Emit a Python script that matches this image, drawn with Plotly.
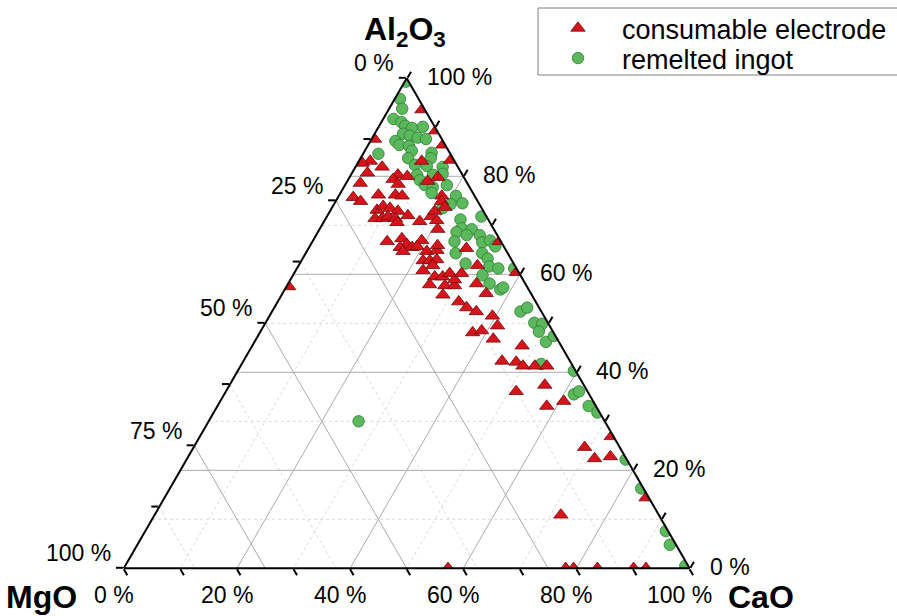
import plotly.graph_objects as go

# ---------------- data (wt.%) ----------------
# consumable electrode inclusions
elec_al2o3 = [93.6, 89.3, 86.4, 83.3, 87.6, 83.1, 83.1, 82.7, 81.9, 80.7, 80.3, 80.0, 79.4, 78.4, 79.0,
              79.8, 78.6, 75.7, 74.9, 76.2, 76.2, 76.0, 76.0, 73.1, 73.9, 73.5, 72.9, 71.4, 71.4, 71.8,
              71.4, 70.6, 72.0, 70.8, 71.8, 72.9, 74.9, 73.7, 71.0, 69.2, 66.7, 67.3, 66.1, 65.5, 65.5,
              64.7, 66.9, 65.7, 64.7, 64.9, 65.9, 62.8, 62.8, 63.0, 60.8, 61.8, 59.5, 59.5, 60.2, 57.9,
              57.7, 57.7, 58.9, 55.8, 54.4, 65.3, 66.7, 61.8, 60.2, 60.4, 58.1, 56.1, 53.2, 52.4, 51.5,
              49.5, 48.1, 48.5, 46.8, 45.4, 42.3, 42.1, 41.3, 41.3, 41.3, 36.1, 37.4, 34.1, 33.1, 24.7,
              22.4, 22.8, 26.9, 14.4, 10.9, 0.0, 0.0, 0.0, 0.0, 0.0, 0.0, 57.5]
elec_cao = [5.9, 10.5, 13.2, 16.1, 0.5, 11.1, 2.0, 0.8, 4.7, 2.7, 8.3, 10.1, 7.9, 9.3, 14.2,
            15.6, 2.5, 2.7, 4.4, 6.9, 9.9, 11.2, 18.2, 8.2, 8.9, 10.3, 12.0, 8.7, 10.0, 10.8,
            12.3, 13.0, 14.2, 16.9, 18.4, 18.5, 18.7, 19.9, 19.8, 20.9, 13.2, 15.5, 17.0, 16.1, 18.2,
            17.0, 19.2, 19.0, 21.2, 22.9, 22.5, 21.5, 22.7, 23.8, 22.5, 23.7, 25.2, 26.6, 27.5, 25.1,
            27.9, 29.6, 29.0, 28.5, 32.0, 27.9, 33.0, 31.6, 29.6, 39.2, 33.3, 36.0, 34.0, 36.1, 39.4,
            41.3, 37.6, 39.0, 41.9, 47.7, 45.7, 48.3, 49.9, 52.0, 54.1, 51.3, 55.7, 60.7, 58.2, 69.1,
            72.0, 74.6, 72.7, 85.1, 71.8, 57.3, 78.1, 79.5, 83.7, 90.1, 92.3, 0.4]
elec_mgo = [0.5, 0.2, 0.4, 0.6, 11.9, 5.8, 14.9, 16.5, 13.4, 16.6, 11.4, 9.9, 12.7, 12.3, 6.8,
            4.6, 18.9, 21.6, 20.7, 16.9, 13.9, 12.8, 5.8, 18.7, 17.2, 16.2, 15.1, 19.9, 18.6, 17.4,
            16.3, 16.4, 13.8, 12.3, 9.8, 8.6, 6.4, 6.4, 9.2, 9.9, 20.1, 17.2, 16.9, 18.4, 16.3,
            18.3, 13.9, 15.3, 14.1, 12.2, 11.6, 15.7, 14.5, 13.2, 16.7, 14.5, 15.3, 13.9, 12.3, 17.0,
            14.4, 12.7, 12.1, 15.7, 13.6, 6.8, 0.3, 6.6, 10.2, 0.4, 8.6, 7.9, 12.8, 11.5, 9.1,
            9.2, 14.3, 12.5, 11.3, 6.9, 12.0, 9.6, 8.8, 6.7, 4.6, 12.6, 6.9, 5.2, 8.7, 6.2,
            5.6, 2.6, 0.4, 0.5, 17.3, 42.7, 21.9, 20.5, 16.3, 9.9, 7.7, 42.1]

# remelted ingot inclusions
ingot_al2o3 = [95.8, 93.8, 91.7, 91.1, 90.3, 89.9, 90.1, 88.7, 88.3, 87.9, 87.6, 87.2, 86.4, 86.2, 84.6,
               85.2, 83.7, 84.8, 83.7, 82.3, 82.1, 81.9, 80.3, 80.3, 80.5, 79.2, 78.2, 77.8, 78.2, 76.6,
               76.0, 74.5, 74.3, 73.5, 71.8, 71.2, 69.4, 69.2, 68.6, 68.0, 68.0, 66.7, 66.5, 66.9, 65.7,
               64.3, 64.3, 63.2, 62.2, 61.6, 61.2, 61.2, 59.8, 52.4, 53.2, 50.1, 49.9, 48.3, 46.2, 47.4,
               41.7, 40.3, 35.5, 36.1, 33.1, 31.8, 22.2, 16.3, 7.6, 4.8, 0.5, 30.0, 99.3, 58.1, 56.9, 57.3]
ingot_cao = [0.9, 2.3, 1.8, 3.5, 4.6, 6.0, 7.8, 5.0, 6.4, 8.0, 9.6, 4.4, 5.5, 7.3, 2.7,
             8.3, 8.4, 12.0, 12.4, 10.3, 12.5, 15.4, 11.7, 14.5, 16.1, 12.7, 14.1, 15.7, 18.0, 16.1,
             20.7, 22.6, 20.6, 19.6, 27.3, 23.9, 25.0, 26.9, 24.5, 26.6, 28.9, 25.1, 30.1, 31.3, 32.8,
             26.5, 31.2, 32.7, 29.3, 33.8, 35.6, 38.4, 33.5, 43.9, 44.7, 47.5, 49.0, 49.2, 51.5, 52.3,
             52.9, 59.4, 61.8, 62.4, 65.6, 67.8, 77.6, 83.3, 92.0, 94.1, 99.0, 26.5, 0.2, 35.6, 38.1, 38.4]
ingot_mgo = [3.3, 3.9, 6.5, 5.4, 5.1, 4.1, 2.1, 6.3, 5.3, 4.1, 2.8, 8.4, 8.1, 6.5, 12.7,
             6.5, 7.9, 3.2, 3.9, 7.4, 5.4, 2.7, 8.0, 5.2, 3.4, 8.1, 7.7, 6.5, 3.8, 7.3,
             3.3, 2.9, 5.1, 6.9, 0.9, 4.9, 5.6, 3.9, 6.9, 5.4, 3.1, 8.2, 3.4, 1.8, 1.5,
             9.2, 4.5, 4.1, 8.5, 4.6, 3.2, 0.4, 6.7, 3.7, 2.1, 2.4, 1.1, 2.5, 2.3, 0.3,
             5.4, 0.3, 2.7, 1.5, 1.3, 0.4, 0.2, 0.4, 0.4, 1.1, 0.5, 43.5, 0.5, 6.3, 5.0, 4.3]

# axis ticks / grid (percent)
al2o3_labels = [0, 20, 40, 60, 80, 100]
al2o3_minor = [10, 30, 50, 70, 90]
cao_labels = [0, 20, 40, 60, 80, 100]
cao_minor = [10, 30, 50, 70, 90]
mgo_labels = [0, 25, 50, 75, 100]
mgo_minor = [12.5, 37.5, 62.5, 87.5]
al2o3_grid = [20, 40, 60, 80]
cao_grid = [20, 40, 60, 80]
mgo_grid = [25, 50, 75]

FONT = "Liberation Sans, Arial, sans-serif"
W, H = 897, 616
DOM_X = [123.7 / W, 689.7 / W]
DOM_Y = [(H - 568.3) / H, (H - 78.3) / H]

# triangle geometry as plotly lays it out inside the domain (equilateral, centred)
_dw = W * (DOM_X[1] - DOM_X[0])
_dh = H * (DOM_Y[1] - DOM_Y[0])
TRI_H = min(_dh, _dw * 3 ** 0.5 / 2)
TRI_W = TRI_H * 2 / 3 ** 0.5
TRI_X0 = W * (DOM_X[0] + DOM_X[1]) / 2 - TRI_W / 2
TRI_Y0 = H * (1 - (DOM_Y[0] + DOM_Y[1]) / 2) - TRI_H / 2


def tern_to_paper(a, b, c):
    s = a + b + c
    x = TRI_X0 + TRI_W * (c + a / 2) / s
    y = TRI_Y0 + TRI_H * (1 - a / s)
    return x / W, 1 - y / H


def grid_path(vals, which):
    a, b, c = [], [], []
    for v in vals:
        r = 100 - v
        if which == "a":
            a += [v, v, None]; b += [r, 0, None]; c += [0, r, None]
        elif which == "b":
            a += [r, 0, None]; b += [v, v, None]; c += [0, r, None]
        else:
            a += [r, 0, None]; b += [0, r, None]; c += [v, v, None]
    return a, b, c


def merge(*paths):
    A, B, C = [], [], []
    for p in paths:
        A += p[0]; B += p[1]; C += p[2]
    return A, B, C


fig = go.Figure()

minor = merge(grid_path(al2o3_minor, "a"), grid_path(mgo_minor, "b"), grid_path(cao_minor, "c"))
major = merge(grid_path(al2o3_grid, "a"), grid_path(mgo_grid, "b"), grid_path(cao_grid, "c"))
fig.add_trace(go.Scatterternary(a=minor[0], b=minor[1], c=minor[2], mode="lines",
                                line=dict(color="#d9d9d9", width=1, dash="3px,3px"),
                                showlegend=False, hoverinfo="skip"))
fig.add_trace(go.Scatterternary(a=major[0], b=major[1], c=major[2], mode="lines",
                                line=dict(color="#ababab", width=1),
                                showlegend=False, hoverinfo="skip"))

fig.add_trace(go.Scatterternary(
    a=ingot_al2o3, b=ingot_mgo, c=ingot_cao, mode="markers", name="remelted ingot",
    legend="legend2",
    marker=dict(symbol="circle", size=11.5, color="#5cb85c", line=dict(color="#2f7d32", width=0.8))))
fig.add_trace(go.Scatterternary(
    a=elec_al2o3, b=elec_mgo, c=elec_cao, mode="markers", name="consumable electrode",
    legend="legend",
    marker=dict(symbol="triangle-up", size=12.5, color="#d7141c", line=dict(color="#6e0a0a", width=0.8))))


def tickset(labels, minor_vals):
    # positions of the tick marks along an edge (in that axis' own units)
    return dict(tickmode="array", tickvals=sorted(set(labels) | set(minor_vals)))


axis_common = dict(showgrid=False, showline=True, linecolor="black", linewidth=2,
                   ticks="outside", ticklen=7, tickwidth=1.5, tickcolor="black",
                   showticklabels=False, title=dict(text=""))

# tick labels: each edge shows the component of the corner it runs towards
tick_font = dict(family=FONT, size=23, color="black")
annotations = []
for m in mgo_labels:            # left edge, MgO
    x, y = tern_to_paper(100 - m, m, 0)
    annotations.append(dict(text="%g %%" % m, x=x, y=y, xanchor="right", yanchor="middle",
                            xshift=-11, yshift=15, font=tick_font))
for v in cao_labels:            # bottom edge, CaO
    x, y = tern_to_paper(0, 100 - v, v)
    annotations.append(dict(text="%g %%" % v, x=x, y=y, xanchor="center", yanchor="middle",
                            xshift=-10, yshift=-27, font=tick_font))
for v in al2o3_labels:          # right edge, Al2O3
    x, y = tern_to_paper(v, 0, 100 - v)
    annotations.append(dict(text="%g %%" % v, x=x, y=y, xanchor="left", yanchor="middle",
                            xshift=18, yshift=1, font=tick_font))

title_font = dict(family=FONT, size=32, color="black")
annotations += [
    dict(text="<b>Al<sub>2</sub>O<sub>3</sub></b>", x=405 / W, y=1 - 31 / H,
         xanchor="center", yanchor="middle", font=title_font),
    dict(text="<b>MgO</b>", x=41 / W, y=(H - 597) / H, xanchor="center", yanchor="middle", font=title_font),
    dict(text="<b>CaO</b>", x=761 / W, y=(H - 597) / H, xanchor="center", yanchor="middle", font=title_font),
]
for ann in annotations:
    ann.update(xref="paper", yref="paper", showarrow=False)

legend_common = dict(x=534 / W, xanchor="left", yanchor="top", bgcolor="rgba(0,0,0,0)",
                     borderwidth=0, font=dict(family=FONT, size=27, color="black"), itemwidth=78)

fig.update_layout(
    width=W, height=H,
    margin=dict(l=0, r=0, t=0, b=0, autoexpand=False),
    paper_bgcolor="white",
    font=dict(family=FONT, color="black"),
    ternary=dict(
        sum=100,
        bgcolor="white",
        domain=dict(x=DOM_X, y=DOM_Y),
        aaxis=dict(**axis_common, **tickset(mgo_labels, mgo_minor)),
        baxis=dict(**axis_common, **tickset(cao_labels, cao_minor)),
        caxis=dict(**axis_common, **tickset(al2o3_labels, al2o3_minor)),
    ),
    legend=dict(**legend_common, y=1 - 4 / H),
    legend2=dict(**legend_common, y=1 - 34 / H),
    shapes=[dict(type="rect", xref="paper", yref="paper", x0=538 / W, x1=1.05,
                 y0=(H - 75) / H, y1=(H - 8) / H, line=dict(color="#808080", width=1),
                 fillcolor="rgba(0,0,0,0)", layer="below")],
    annotations=annotations,
)

fig.write_html("out.html", config={"displayModeBar": False},
               post_script="document.body.style.margin='0px';")
